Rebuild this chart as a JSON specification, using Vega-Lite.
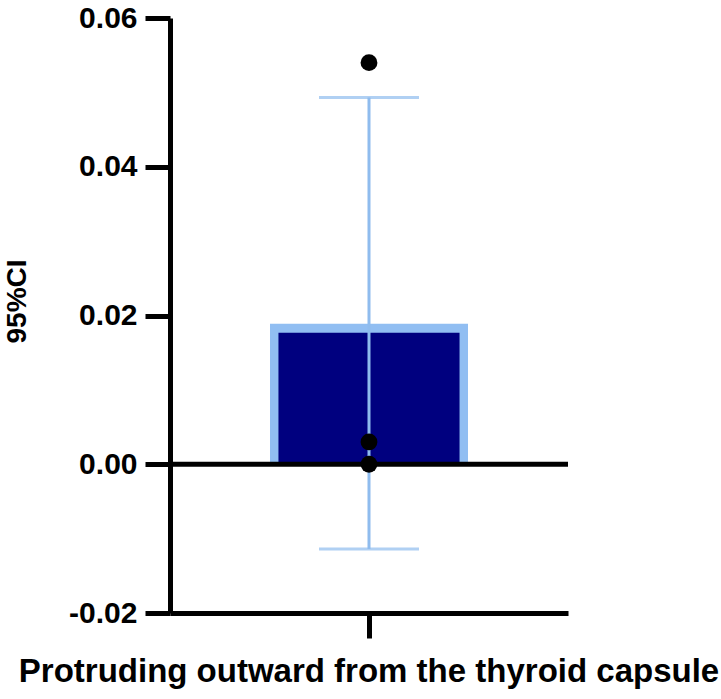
{
  "$schema": "https://vega.github.io/schema/vega-lite/v6.json",
  "width": 398,
  "height": 595,
  "autosize": "none",
  "padding": {"left": 170, "top": 18, "right": 153, "bottom": 86},
  "background": "white",
  "config": {
    "view": {"stroke": null},
    "font": "Liberation Sans",
    "axis": {"grid": false, "domainColor": "black", "tickColor": "black", "labelColor": "black", "titleColor": "black"}
  },
  "datasets": {
    "summary": [
      {"group": "Protruding outward from the thyroid capsule", "mean": 0.0189, "lo": -0.0114, "hi": 0.0493}
    ],
    "points": [
      {"group": "Protruding outward from the thyroid capsule", "value": 0.054},
      {"group": "Protruding outward from the thyroid capsule", "value": 0.003},
      {"group": "Protruding outward from the thyroid capsule", "value": 0.0}
    ]
  },
  "layer": [
    {
      "data": {"name": "summary"},
      "mark": {"type": "bar", "fill": "#91bef2", "width": {"band": 0.4975}},
      "encoding": {
        "x": {
          "field": "group",
          "type": "nominal",
          "scale": {"paddingInner": 0, "paddingOuter": 0},
          "axis": {
            "title": null,
            "labelAngle": 0,
            "labelLimit": 0,
            "labelFontSize": 33,
            "labelFontWeight": "bold",
            "labelPadding": 17,
            "domainWidth": 5,
            "tickWidth": 5,
            "tickSize": 25
          }
        },
        "y": {
          "field": "mean",
          "type": "quantitative",
          "scale": {"domain": [-0.02, 0.06], "nice": false, "zero": false},
          "axis": {
            "title": "95%CI",
            "values": [-0.02, 0, 0.02, 0.04, 0.06],
            "labelExpr": "datum.value < 0 ? '-' + format(-datum.value, '.2f') : format(datum.value, '.2f')",
            "labelFontSize": 30,
            "labelFontWeight": "bold",
            "labelPadding": 8,
            "domainWidth": 5,
            "tickWidth": 5,
            "tickSize": 25,
            "titleFontSize": 28,
            "titleFontWeight": "bold",
            "titleX": -139,
            "titleY": 283
          }
        },
        "y2": {"datum": 0}
      }
    },
    {
      "data": {"name": "summary"},
      "mark": {"type": "bar", "fill": "#00007f", "width": {"band": 0.455}, "yOffset": 9},
      "encoding": {
        "x": {"field": "group", "type": "nominal"},
        "y": {"field": "mean", "type": "quantitative"},
        "y2": {"datum": 0}
      }
    },
    {
      "data": {"name": "summary"},
      "mark": {"type": "rule", "color": "#8fbcee", "strokeWidth": 3},
      "encoding": {
        "x": {"field": "group", "type": "nominal"},
        "y": {"field": "lo", "type": "quantitative"},
        "y2": {"field": "hi"}
      }
    },
    {
      "data": {"name": "summary"},
      "mark": {"type": "tick", "color": "#8fbcee", "size": 100, "thickness": 3},
      "encoding": {
        "x": {"field": "group", "type": "nominal"},
        "y": {"field": "lo", "type": "quantitative"}
      }
    },
    {
      "data": {"name": "summary"},
      "mark": {"type": "tick", "color": "#8fbcee", "size": 100, "thickness": 3},
      "encoding": {
        "x": {"field": "group", "type": "nominal"},
        "y": {"field": "hi", "type": "quantitative"}
      }
    },
    {
      "data": {"values": [{"zero": 0}]},
      "mark": {"type": "rule", "color": "black", "strokeWidth": 5},
      "encoding": {
        "y": {"field": "zero", "type": "quantitative"}
      }
    },
    {
      "data": {"name": "points"},
      "mark": {"type": "circle", "color": "black", "opacity": 1, "size": 283},
      "encoding": {
        "x": {"field": "group", "type": "nominal"},
        "y": {"field": "value", "type": "quantitative"}
      }
    }
  ]
}
